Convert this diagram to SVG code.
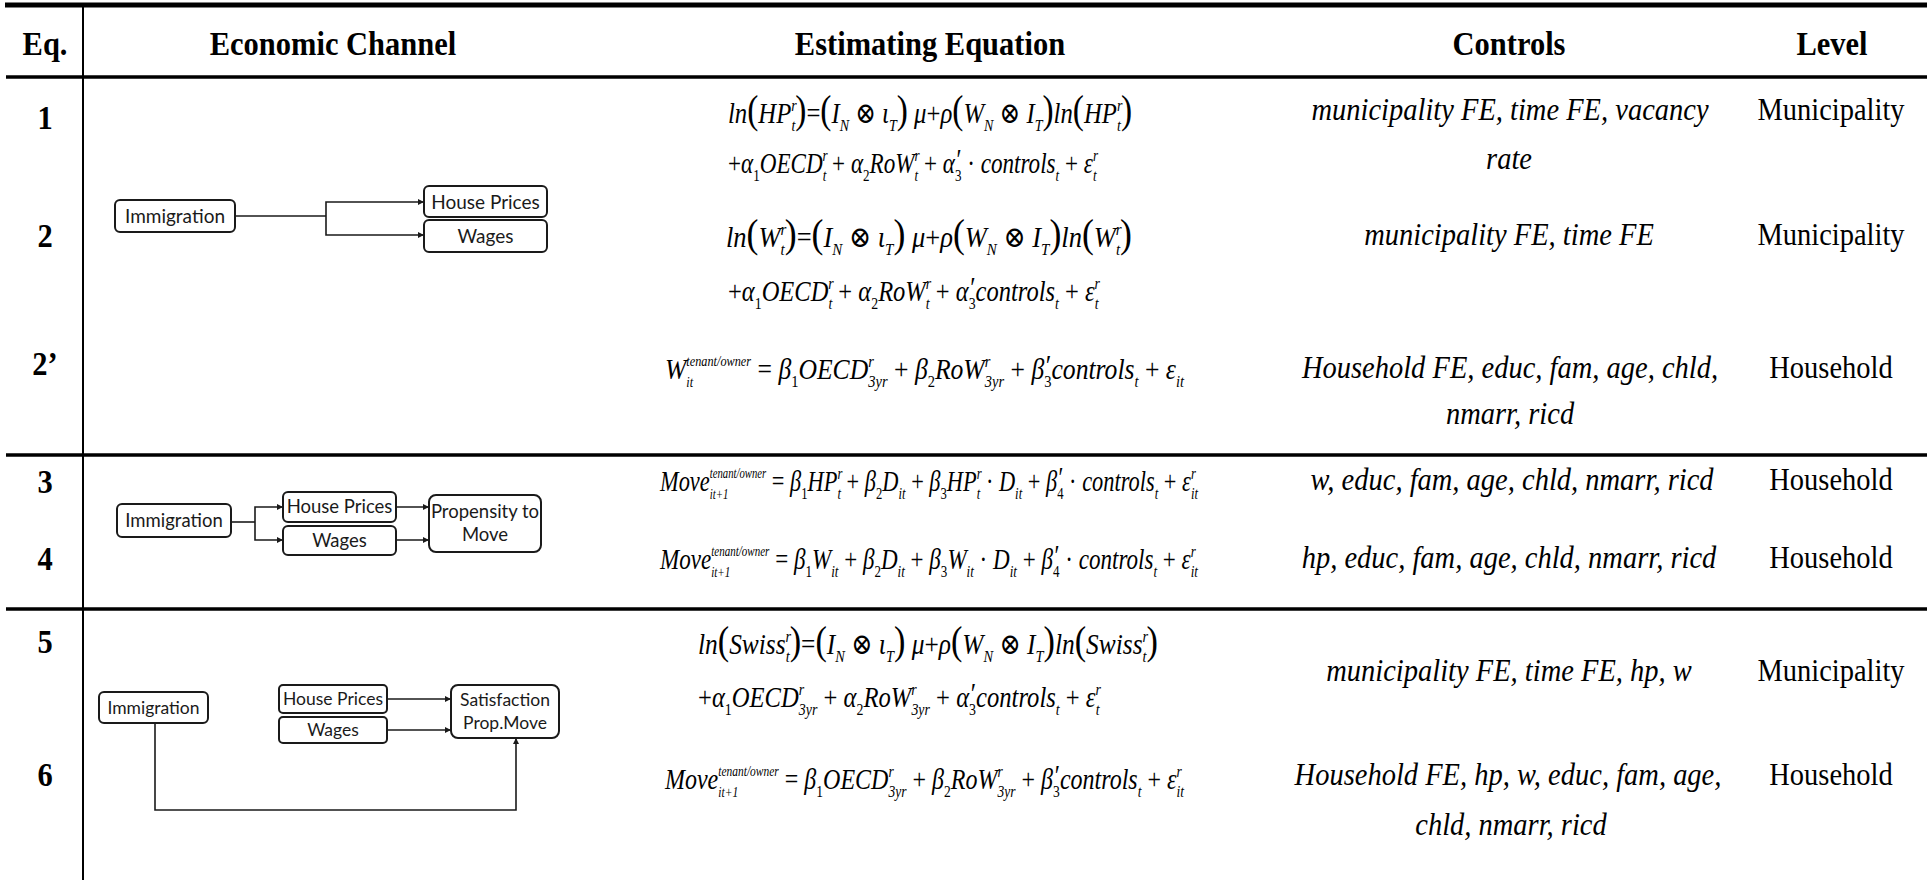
<svg xmlns="http://www.w3.org/2000/svg" width="1927" height="880" viewBox="0 0 1927 880">
<defs>
<style>
.rule{stroke:#000;fill:none}
.hd{font-family:"Liberation Serif","Times New Roman",serif;font-weight:bold;font-size:30.5px;text-anchor:middle;fill:#000}
.ctl{font-family:"Liberation Serif","Times New Roman",serif;font-style:italic;font-size:28.5px;text-anchor:middle;fill:#000}
.lvl{font-family:"Liberation Serif","Times New Roman",serif;font-size:28.5px;text-anchor:middle;fill:#000}
.eq{font-family:"Liberation Serif","DejaVu Serif",serif;font-style:italic;font-size:23px;fill:#000}
.sc{font-size:13px}
.ss{font-size:11px}
.u{font-style:normal}
.bp{font-style:normal;font-size:31px}
.box{fill:#fff;stroke:#1a1a1a;stroke-width:2}
.bt{font-family:Lato,"Open Sans",sans-serif;font-size:19px;text-anchor:middle;fill:#1a1a1a}
.bt2{font-size:18.5px}
.bt3{font-size:17.5px}
.cn{fill:none;stroke:#1a1a1a;stroke-width:1.6}
</style>
<marker id="ah" viewBox="0 0 10 10" refX="10" refY="5" markerWidth="7" markerHeight="6" markerUnits="userSpaceOnUse" orient="auto"><path d="M0,0 L10,5 L0,10 z" fill="#1a1a1a"/></marker>
</defs>
<rect width="1927" height="880" fill="#fff"/>

<g id="rules">
<line class="rule" x1="5" y1="5" x2="1927" y2="5" stroke-width="5"/>
<line class="rule" x1="6" y1="77" x2="1927" y2="77" stroke-width="3.5"/>
<line class="rule" x1="6" y1="455" x2="1927" y2="455" stroke-width="3.5"/>
<line class="rule" x1="6" y1="609" x2="1927" y2="609" stroke-width="3.5"/>
<line class="rule" x1="83" y1="5" x2="83" y2="880" stroke-width="2"/>
</g>

<g id="header">
<text class="hd" transform="translate(45,55) scale(1,1.12)">Eq.</text>
<text class="hd" transform="translate(333,55) scale(1,1.12)">Economic Channel</text>
<text class="hd" transform="translate(930,55) scale(1,1.12)">Estimating Equation</text>
<text class="hd" transform="translate(1509,55) scale(1,1.12)">Controls</text>
<text class="hd" transform="translate(1832,55) scale(1,1.12)">Level</text>
</g>

<g id="eqnums">
<text class="hd" transform="translate(45,129) scale(1,1.12)">1</text>
<text class="hd" transform="translate(45,247) scale(1,1.12)">2</text>
<text class="hd" transform="translate(45,375) scale(1,1.12)">2’</text>
<text class="hd" transform="translate(45,493) scale(1,1.12)">3</text>
<text class="hd" transform="translate(45,570) scale(1,1.12)">4</text>
<text class="hd" transform="translate(45,653) scale(1,1.12)">5</text>
<text class="hd" transform="translate(45,786) scale(1,1.12)">6</text>
</g>

<g id="connectors">
<path class="cn" d="M235,216 H326" stroke-width="2.2"/>
<path class="cn" d="M326,216 V202 H424" marker-end="url(#ah)"/>
<path class="cn" d="M326,216 V235 H424" marker-end="url(#ah)"/>
<path class="cn" d="M231,522 H255" stroke-width="2"/>
<path class="cn" d="M255,522 V507 H283" marker-end="url(#ah)"/>
<path class="cn" d="M255,522 V540 H283" marker-end="url(#ah)"/>
<path class="cn" d="M396,507 H429" marker-end="url(#ah)"/>
<path class="cn" d="M396,540 H429" marker-end="url(#ah)"/>
<path class="cn" d="M387,699 H451" marker-end="url(#ah)"/>
<path class="cn" d="M387,730 H451" marker-end="url(#ah)"/>
<path class="cn" d="M155,723 V810 H516 V738" marker-end="url(#ah)"/>
</g>

<g id="d1-immigration"><rect class="box" x="115" y="200" width="120" height="32" rx="5"/><text class="bt" x="175" y="222.5">Immigration</text></g>
<g id="d1-houseprices"><rect class="box" x="424" y="186" width="123" height="31" rx="5"/><text class="bt" x="485.5" y="208.5">House Prices</text></g>
<g id="d1-wages"><rect class="box" x="424" y="220" width="123" height="32" rx="5"/><text class="bt" x="485.5" y="242.5">Wages</text></g>

<g id="d2-immigration"><rect class="box" x="117" y="504" width="114" height="33" rx="5"/><text class="bt bt2" x="174" y="527">Immigration</text></g>
<g id="d2-houseprices"><rect class="box" x="283" y="492" width="113" height="30" rx="5"/><text class="bt bt2" x="339.5" y="513">House Prices</text></g>
<g id="d2-wages"><rect class="box" x="283" y="526" width="113" height="29" rx="5"/><text class="bt bt2" x="339.5" y="547">Wages</text></g>
<g id="d2-propensity"><rect class="box" x="429" y="495" width="112" height="57" rx="7"/><text class="bt bt2" x="485" y="518">Propensity to</text><text class="bt bt2" x="485" y="541">Move</text></g>

<g id="d3-immigration"><rect class="box" x="99" y="692" width="109" height="31" rx="5"/><text class="bt bt3" x="153.5" y="714">Immigration</text></g>
<g id="d3-houseprices"><rect class="box" x="279" y="685" width="108" height="28" rx="4"/><text class="bt bt3" x="333" y="705">House Prices</text></g>
<g id="d3-wages"><rect class="box" x="279" y="717" width="108" height="26" rx="4"/><text class="bt bt3" x="333" y="736">Wages</text></g>
<g id="d3-satisfaction"><rect class="box" x="451" y="685" width="108" height="53" rx="7"/><text class="bt bt3" x="505" y="706">Satisfaction</text><text class="bt bt3" x="505" y="729">Prop.Move</text></g>

<g id="equations">
<text class="eq" transform="translate(728,123) scale(1,1.28)" textLength="404" lengthAdjust="spacingAndGlyphs">ln<tspan class="bp">(</tspan>HP<tspan class="sc" dy="-9">r</tspan><tspan class="sc" dx="-5" dy="15">t</tspan><tspan class="bp" dy="-6">)</tspan><tspan class="u">=</tspan><tspan class="bp">(</tspan>I<tspan class="sc" dy="6">N</tspan><tspan class="u" dy="-6"> ⊗ </tspan>ι<tspan class="sc" dy="6">T</tspan><tspan class="bp" dy="-6">)</tspan> μ<tspan class="u">+</tspan>ρ<tspan class="bp">(</tspan>W<tspan class="sc" dy="6">N</tspan><tspan class="u" dy="-6"> ⊗ </tspan>I<tspan class="sc" dy="6">T</tspan><tspan class="bp" dy="-6">)</tspan>ln<tspan class="bp">(</tspan>HP<tspan class="sc" dy="-9">r</tspan><tspan class="sc" dx="-5" dy="15">t</tspan><tspan class="bp" dy="-6">)</tspan></text>
<text class="eq" transform="translate(728,173) scale(1,1.28)" textLength="370" lengthAdjust="spacingAndGlyphs"><tspan class="u">+</tspan>α<tspan class="sc u" dy="6">1</tspan><tspan dy="-6">OECD</tspan><tspan class="sc" dy="-9">r</tspan><tspan class="sc" dx="-5" dy="15">t</tspan><tspan class="u" dy="-6"> + </tspan>α<tspan class="sc u" dy="6">2</tspan><tspan dy="-6">RoW</tspan><tspan class="sc" dy="-9">r</tspan><tspan class="sc" dx="-5" dy="15">t</tspan><tspan class="u" dy="-6"> + </tspan>α<tspan class="sc u" dy="6">3</tspan><tspan class="u" dx="-5" dy="-9">′</tspan><tspan class="u" dy="3"> · </tspan>controls<tspan class="sc" dy="6">t</tspan><tspan class="u" dy="-6"> + </tspan>ε<tspan class="sc" dy="-9">r</tspan><tspan class="sc" dx="-5" dy="15">t</tspan></text>

<text class="eq" transform="translate(726,247) scale(1,1.28)" textLength="406" lengthAdjust="spacingAndGlyphs">ln<tspan class="bp">(</tspan>W<tspan class="sc" dy="-9">r</tspan><tspan class="sc" dx="-5" dy="15">t</tspan><tspan class="bp" dy="-6">)</tspan><tspan class="u">=</tspan><tspan class="bp">(</tspan>I<tspan class="sc" dy="6">N</tspan><tspan class="u" dy="-6"> ⊗ </tspan>ι<tspan class="sc" dy="6">T</tspan><tspan class="bp" dy="-6">)</tspan> μ<tspan class="u">+</tspan>ρ<tspan class="bp">(</tspan>W<tspan class="sc" dy="6">N</tspan><tspan class="u" dy="-6"> ⊗ </tspan>I<tspan class="sc" dy="6">T</tspan><tspan class="bp" dy="-6">)</tspan>ln<tspan class="bp">(</tspan>W<tspan class="sc" dy="-9">r</tspan><tspan class="sc" dx="-5" dy="15">t</tspan><tspan class="bp" dy="-6">)</tspan></text>
<text class="eq" transform="translate(728,301) scale(1,1.28)" textLength="372" lengthAdjust="spacingAndGlyphs"><tspan class="u">+</tspan>α<tspan class="sc u" dy="6">1</tspan><tspan dy="-6">OECD</tspan><tspan class="sc" dy="-9">r</tspan><tspan class="sc" dx="-5" dy="15">t</tspan><tspan class="u" dy="-6"> + </tspan>α<tspan class="sc u" dy="6">2</tspan><tspan dy="-6">RoW</tspan><tspan class="sc" dy="-9">r</tspan><tspan class="sc" dx="-5" dy="15">t</tspan><tspan class="u" dy="-6"> + </tspan>α<tspan class="sc u" dy="6">3</tspan><tspan class="u" dx="-5" dy="-9">′</tspan><tspan dy="3">controls</tspan><tspan class="sc" dy="6">t</tspan><tspan class="u" dy="-6"> + </tspan>ε<tspan class="sc" dy="-9">r</tspan><tspan class="sc" dx="-5" dy="15">t</tspan></text>

<text class="eq" transform="translate(665,379) scale(1,1.28)" textLength="519" lengthAdjust="spacingAndGlyphs">W<tspan class="ss" dy="-10">tenant/owner</tspan><tspan class="ss" dx="-58" dy="16">it</tspan><tspan class="u" dx="52" dy="-6"> = </tspan>β<tspan class="sc u" dy="6">1</tspan><tspan dy="-6">OECD</tspan><tspan class="sc" dy="-9">r</tspan><tspan class="sc" dx="-5" dy="15">3yr</tspan><tspan class="u" dy="-6"> + </tspan>β<tspan class="sc u" dy="6">2</tspan><tspan dy="-6">RoW</tspan><tspan class="sc" dy="-9">r</tspan><tspan class="sc" dx="-5" dy="15">3yr</tspan><tspan class="u" dy="-6"> + </tspan>β<tspan class="sc u" dy="6">3</tspan><tspan class="u" dx="-5" dy="-9">′</tspan><tspan dy="3">controls</tspan><tspan class="sc" dy="6">t</tspan><tspan class="u" dy="-6"> + </tspan>ε<tspan class="sc" dy="6">it</tspan></text>

<text class="eq" transform="translate(660,491) scale(1,1.28)" textLength="538" lengthAdjust="spacingAndGlyphs">Move<tspan class="ss" dy="-10">tenant/owner</tspan><tspan class="ss" dx="-58" dy="16">it+1</tspan><tspan class="u" dx="39" dy="-6"> = </tspan>β<tspan class="sc u" dy="6">1</tspan><tspan dy="-6">HP</tspan><tspan class="sc" dy="-9">r</tspan><tspan class="sc" dx="-5" dy="15">t</tspan><tspan class="u" dy="-6"> + </tspan>β<tspan class="sc u" dy="6">2</tspan><tspan dy="-6">D</tspan><tspan class="sc" dy="6">it</tspan><tspan class="u" dy="-6"> + </tspan>β<tspan class="sc u" dy="6">3</tspan><tspan dy="-6">HP</tspan><tspan class="sc" dy="-9">r</tspan><tspan class="sc" dx="-5" dy="15">t</tspan><tspan class="u" dy="-6"> · </tspan>D<tspan class="sc" dy="6">it</tspan><tspan class="u" dy="-6"> + </tspan>β<tspan class="sc u" dy="6">4</tspan><tspan class="u" dx="-5" dy="-9">′</tspan><tspan class="u" dy="3"> · </tspan>controls<tspan class="sc" dy="6">t</tspan><tspan class="u" dy="-6"> + </tspan>ε<tspan class="sc" dy="-9">r</tspan><tspan class="sc" dx="-5" dy="15">it</tspan></text>

<text class="eq" transform="translate(660,569) scale(1,1.28)" textLength="538" lengthAdjust="spacingAndGlyphs">Move<tspan class="ss" dy="-10">tenant/owner</tspan><tspan class="ss" dx="-58" dy="16">it+1</tspan><tspan class="u" dx="39" dy="-6"> = </tspan>β<tspan class="sc u" dy="6">1</tspan><tspan dy="-6">W</tspan><tspan class="sc" dy="6">it</tspan><tspan class="u" dy="-6"> + </tspan>β<tspan class="sc u" dy="6">2</tspan><tspan dy="-6">D</tspan><tspan class="sc" dy="6">it</tspan><tspan class="u" dy="-6"> + </tspan>β<tspan class="sc u" dy="6">3</tspan><tspan dy="-6">W</tspan><tspan class="sc" dy="6">it</tspan><tspan class="u" dy="-6"> · </tspan>D<tspan class="sc" dy="6">it</tspan><tspan class="u" dy="-6"> + </tspan>β<tspan class="sc u" dy="6">4</tspan><tspan class="u" dx="-5" dy="-9">′</tspan><tspan class="u" dy="3"> · </tspan>controls<tspan class="sc" dy="6">t</tspan><tspan class="u" dy="-6"> + </tspan>ε<tspan class="sc" dy="-9">r</tspan><tspan class="sc" dx="-5" dy="15">it</tspan></text>

<text class="eq" transform="translate(698,654) scale(1,1.28)" textLength="460" lengthAdjust="spacingAndGlyphs">ln<tspan class="bp">(</tspan>Swiss<tspan class="sc" dy="-9">r</tspan><tspan class="sc" dx="-5" dy="15">t</tspan><tspan class="bp" dy="-6">)</tspan><tspan class="u">=</tspan><tspan class="bp">(</tspan>I<tspan class="sc" dy="6">N</tspan><tspan class="u" dy="-6"> ⊗ </tspan>ι<tspan class="sc" dy="6">T</tspan><tspan class="bp" dy="-6">)</tspan> μ<tspan class="u">+</tspan>ρ<tspan class="bp">(</tspan>W<tspan class="sc" dy="6">N</tspan><tspan class="u" dy="-6"> ⊗ </tspan>I<tspan class="sc" dy="6">T</tspan><tspan class="bp" dy="-6">)</tspan>ln<tspan class="bp">(</tspan>Swiss<tspan class="sc" dy="-9">r</tspan><tspan class="sc" dx="-5" dy="15">t</tspan><tspan class="bp" dy="-6">)</tspan></text>
<text class="eq" transform="translate(698,707) scale(1,1.28)" textLength="403" lengthAdjust="spacingAndGlyphs"><tspan class="u">+</tspan>α<tspan class="sc u" dy="6">1</tspan><tspan dy="-6">OECD</tspan><tspan class="sc" dy="-9">r</tspan><tspan class="sc" dx="-5" dy="15">3yr</tspan><tspan class="u" dy="-6"> + </tspan>α<tspan class="sc u" dy="6">2</tspan><tspan dy="-6">RoW</tspan><tspan class="sc" dy="-9">r</tspan><tspan class="sc" dx="-5" dy="15">3yr</tspan><tspan class="u" dy="-6"> + </tspan>α<tspan class="sc u" dy="6">3</tspan><tspan class="u" dx="-5" dy="-9">′</tspan><tspan dy="3">controls</tspan><tspan class="sc" dy="6">t</tspan><tspan class="u" dy="-6"> + </tspan>ε<tspan class="sc" dy="-9">r</tspan><tspan class="sc" dx="-5" dy="15">t</tspan></text>

<text class="eq" transform="translate(665,789) scale(1,1.28)" textLength="519" lengthAdjust="spacingAndGlyphs">Move<tspan class="ss" dy="-10">tenant/owner</tspan><tspan class="ss" dx="-58" dy="16">it+1</tspan><tspan class="u" dx="39" dy="-6"> = </tspan>β<tspan class="sc u" dy="6">1</tspan><tspan dy="-6">OECD</tspan><tspan class="sc" dy="-9">r</tspan><tspan class="sc" dx="-5" dy="15">3yr</tspan><tspan class="u" dy="-6"> + </tspan>β<tspan class="sc u" dy="6">2</tspan><tspan dy="-6">RoW</tspan><tspan class="sc" dy="-9">r</tspan><tspan class="sc" dx="-5" dy="15">3yr</tspan><tspan class="u" dy="-6"> + </tspan>β<tspan class="sc u" dy="6">3</tspan><tspan class="u" dx="-5" dy="-9">′</tspan><tspan dy="3">controls</tspan><tspan class="sc" dy="6">t</tspan><tspan class="u" dy="-6"> + </tspan>ε<tspan class="sc" dy="-9">r</tspan><tspan class="sc" dx="-5" dy="15">it</tspan></text>
</g>

<g id="controls">
<text class="ctl" transform="translate(1510,120) scale(1,1.12)">municipality FE, time FE, vacancy</text>
<text class="ctl" transform="translate(1509,169) scale(1,1.12)">rate</text>
<text class="ctl" transform="translate(1509,245) scale(1,1.12)">municipality FE, time FE</text>
<text class="ctl" transform="translate(1510,378) scale(1,1.12)">Household FE, educ, fam, age, chld,</text>
<text class="ctl" transform="translate(1510,424) scale(1,1.12)">nmarr, ricd</text>
<text class="ctl" transform="translate(1512,490) scale(1,1.12)">w, educ, fam, age, chld, nmarr, ricd</text>
<text class="ctl" transform="translate(1509,568) scale(1,1.12)">hp, educ, fam, age, chld, nmarr, ricd</text>
<text class="ctl" transform="translate(1509,681) scale(1,1.12)">municipality FE, time FE, hp, w</text>
<text class="ctl" transform="translate(1508,785) scale(1,1.12)">Household FE, hp, w, educ, fam, age,</text>
<text class="ctl" transform="translate(1511,835) scale(1,1.12)">chld, nmarr, ricd</text>
</g>

<g id="levels">
<text class="lvl" transform="translate(1831,120) scale(1,1.12)">Municipality</text>
<text class="lvl" transform="translate(1831,245) scale(1,1.12)">Municipality</text>
<text class="lvl" transform="translate(1831,378) scale(1,1.12)">Household</text>
<text class="lvl" transform="translate(1831,490) scale(1,1.12)">Household</text>
<text class="lvl" transform="translate(1831,568) scale(1,1.12)">Household</text>
<text class="lvl" transform="translate(1831,681) scale(1,1.12)">Municipality</text>
<text class="lvl" transform="translate(1831,785) scale(1,1.12)">Household</text>
</g>
</svg>
